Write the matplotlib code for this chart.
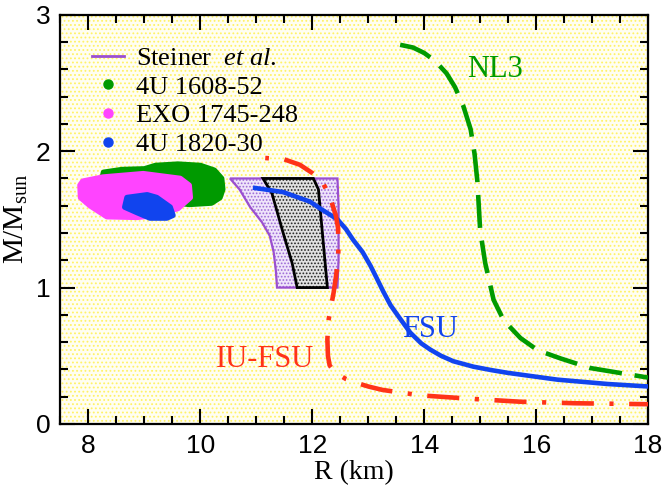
import numpy as np
import matplotlib
matplotlib.use("Agg")
import matplotlib.pyplot as plt
from matplotlib.patches import Polygon, Rectangle
from matplotlib.lines import Line2D

plt.rcParams['mathtext.fontset'] = 'custom'
plt.rcParams['mathtext.rm'] = 'Liberation Serif'
plt.rcParams['mathtext.it'] = 'Liberation Serif:italic'
plt.rcParams['hatch.linewidth'] = 0.8

# mass-radius curves (R in km, M in Msun)
nl3_R = [13.57, 13.8, 14.0, 14.2, 14.4, 14.55, 14.7, 14.83, 14.9, 14.95, 15.0, 15.09,
         15.24, 15.42, 15.72, 16.03, 16.44, 16.97, 17.5, 18.0]
nl3_M = [2.78, 2.76, 2.72, 2.66, 2.57, 2.47, 2.33, 2.16, 1.98, 1.78, 1.42, 1.18,
         0.91, 0.76, 0.63, 0.54, 0.48, 0.41, 0.374, 0.34]

fsu_R = [10.98, 11.48, 11.96, 12.14, 12.45, 12.6, 12.73, 12.9, 13.04, 13.15, 13.27, 13.4,
         13.52, 13.75, 13.95, 14.11, 14.3, 14.52, 14.88, 15.2, 15.49, 16.38, 17.28, 18.0]
fsu_M = [1.73, 1.70, 1.63, 1.58, 1.50, 1.43, 1.35, 1.26, 1.16, 1.07, 0.97, 0.87,
         0.80, 0.67, 0.59, 0.545, 0.50, 0.46, 0.42, 0.395, 0.375, 0.325, 0.293, 0.275]

iufsu_R = [11.16, 11.5, 11.78, 12.0, 12.2, 12.32, 12.42, 12.46, 12.47, 12.46, 12.42, 12.38,
           12.33, 12.29, 12.27, 12.28, 12.31, 12.4, 12.6, 12.8, 13.0, 13.25, 13.93, 14.82,
           15.72, 16.7, 17.64, 18.0]
iufsu_M = [1.95, 1.94, 1.90, 1.84, 1.76, 1.66, 1.53, 1.44, 1.32, 1.20, 1.07, 0.96,
           0.85, 0.76, 0.62, 0.50, 0.43, 0.38, 0.33, 0.30, 0.275, 0.25, 0.21, 0.185,
           0.163, 0.152, 0.147, 0.145]

# Steiner et al. regions
steiner_outer = [(10.53, 1.80), (12.45, 1.80), (12.47, 1.6), (12.47, 1.2), (12.45, 1.0),
                 (11.37, 1.0), (11.35, 1.12), (11.31, 1.26), (11.24, 1.38), (11.1, 1.48),
                 (10.89, 1.59), (10.7, 1.72)]
steiner_inner = [(11.12, 1.80), (12.02, 1.80), (12.11, 1.72), (12.27, 1.0), (11.73, 1.0),
                 (11.64, 1.18), (11.48, 1.40), (11.28, 1.69)]

# observed sources (outlines of the clouds)
src_4u1608 = [(8.24, 1.79), (8.27, 1.845), (8.6, 1.865), (9.0, 1.87), (9.2, 1.895),
              (9.6, 1.905), (10.0, 1.895), (10.25, 1.86), (10.38, 1.80), (10.40, 1.72),
              (10.35, 1.66), (10.2, 1.62), (9.8, 1.61), (9.6, 1.62), (9.0, 1.70), (8.3, 1.74)]
src_exo1745 = [(7.85, 1.75), (7.9, 1.78), (8.26, 1.81), (8.98, 1.835), (9.64, 1.80),
               (9.8, 1.75), (9.82, 1.66), (9.6, 1.58), (9.2, 1.53), (8.87, 1.515),
               (8.33, 1.52), (8.03, 1.60), (7.86, 1.66)]
src_4u1820 = [(8.69, 1.66), (9.05, 1.68), (9.22, 1.66), (9.46, 1.59), (9.51, 1.53),
              (9.4, 1.51), (9.1, 1.51), (8.87, 1.55), (8.65, 1.59)]

green = '#009a00'
magenta = '#ff44ff'
blue = '#1144ee'
red = '#ff3318'
purple = '#9b4fd0'

fig = plt.figure(figsize=(6.64, 4.93), dpi=100)
ax = fig.add_axes([0.091, 0.140, 0.885, 0.830])

# dotted yellow background
ax.add_patch(Rectangle((0, 0), 1, 1, transform=ax.transAxes, facecolor='#fffef2',
                       edgecolor='#fff266', hatch='....', linewidth=0, zorder=0))

for pts, c in [(src_4u1608, green), (src_exo1745, magenta), (src_4u1820, blue)]:
    ax.add_patch(Polygon(pts, closed=True, facecolor=c, edgecolor=c, linewidth=4,
                         joinstyle='round', zorder=2))

ax.add_patch(Polygon(steiner_outer, closed=True, facecolor='#efe4fa', edgecolor='#9c6ad6',
                     hatch='.....', linewidth=0, zorder=3))
ax.add_patch(Polygon(steiner_outer, closed=True, fill=False, edgecolor=purple,
                     linewidth=1.6, zorder=3))
ax.add_patch(Polygon(steiner_inner, closed=True, facecolor='#e0e0e0', edgecolor='#222222',
                     hatch='.....', linewidth=0, zorder=3))
ax.add_patch(Polygon(steiner_inner, closed=True, fill=False, edgecolor='black',
                     linewidth=2, zorder=3))

ax.plot(nl3_R, nl3_M, color=green, lw=3.3, dashes=(7.2, 2.8), zorder=4)
ax.plot(fsu_R, fsu_M, color=blue, lw=3.3, zorder=4)
ax.plot(iufsu_R, iufsu_M, color=red, lw=3.3, ls=(10.5, (7.0, 3.4, 0.9, 3.4)), zorder=4)

ax.text(15.27, 2.6, 'NL3', color=green, fontsize=22, family='Liberation Serif',
        ha='center', va='center')
ax.text(14.1, 0.69, 'FSU', color=blue, fontsize=22, family='Liberation Serif',
        ha='center', va='center')
ax.text(11.15, 0.47, 'IU-FSU', color=red, fontsize=22, family='Liberation Serif',
        ha='center', va='center')

ax.set_xlim(7.5, 18)
ax.set_ylim(0, 3)
ax.set_xticks([8, 10, 12, 14, 16, 18])
ax.set_xticks(np.arange(7.5, 18.01, 0.5), minor=True)
ax.set_yticks([0, 1, 2, 3])
ax.set_yticks(np.arange(0, 3.01, 0.2), minor=True)
ax.tick_params(which='both', direction='in', top=True, right=True, width=1.5)
ax.tick_params(which='major', length=11, labelsize=19, pad=7)
ax.tick_params(which='minor', length=6)
for lab in ax.get_xticklabels() + ax.get_yticklabels():
    lab.set_family('Liberation Sans')
for sp in ax.spines.values():
    sp.set_linewidth(1.6)

ax.set_xlabel('R (km)', fontsize=20, family='Liberation Serif', labelpad=2)
ax.set_ylabel(r'M/M$_{\rm sun}$', fontsize=21, family='Liberation Serif', labelpad=4)

handles = [Line2D([], [], color=purple, lw=2),
           Line2D([], [], ls='none', marker='o', ms=6.5, color=green),
           Line2D([], [], ls='none', marker='o', ms=6.5, color=magenta),
           Line2D([], [], ls='none', marker='o', ms=6.5, color=blue)]
labels = [r'Steiner  $\it{et\ al.}$', '4U 1608-52', 'EXO 1745-248', '4U 1820-30']
ax.legend(handles, labels, loc='upper left', frameon=False, handlelength=1.2,
          handletextpad=0.45, labelspacing=0.2, borderaxespad=0.6,
          borderpad=0.6, prop={'family': 'Liberation Serif', 'size': 19})

fig.savefig('out.png', dpi=100)
